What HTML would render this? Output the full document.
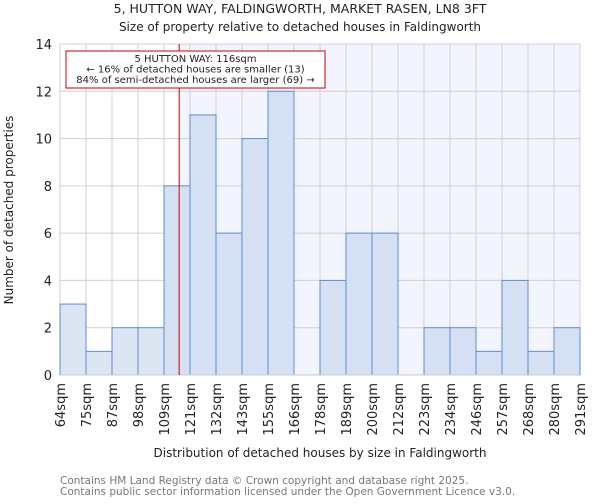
<!DOCTYPE html>
<html><head><meta charset="utf-8"><style>
body{margin:0;background:#fff;font-family:"DejaVu Sans","Liberation Sans",sans-serif;}
</style></head><body>
<svg width="600" height="500" xmlns="http://www.w3.org/2000/svg" font-family="DejaVu Sans, Liberation Sans, sans-serif">
<text x="300" y="13" text-anchor="middle" font-size="12.5" fill="#222">5, HUTTON WAY, FALDINGWORTH, MARKET RASEN, LN8 3FT</text>
<text x="300" y="31" text-anchor="middle" font-size="12" fill="#222">Size of property relative to detached houses in Faldingworth</text>
<g id="plot"></g>
<text transform="translate(13,210) rotate(-90)" text-anchor="middle" font-size="12" fill="#222">Number of detached properties</text>
<text x="320" y="457" text-anchor="middle" font-size="12" fill="#222">Distribution of detached houses by size in Faldingworth</text>
<text x="60" y="484" font-size="10.5" fill="#777">Contains HM Land Registry data © Crown copyright and database right 2025.</text>
<text x="60" y="495" font-size="10.5" fill="#777">Contains public sector information licensed under the Open Government Licence v3.0.</text>
</svg>
<script>
const categories=["64sqm","75sqm","87sqm","98sqm","109sqm","121sqm","132sqm","143sqm","155sqm","166sqm","178sqm","189sqm","200sqm","212sqm","223sqm","234sqm","246sqm","257sqm","268sqm","280sqm","291sqm"];
const counts=[3,1,2,2,8,11,6,10,12,0,4,6,6,0,2,2,1,4,1,2];
const yTicks=[0,2,4,6,8,10,12,14];
const edgeValues=[64,75,87,98,109,121,132,143,155,166,178,189,200,212,223,234,246,257,268,280,291];
const propertySize=116;
const L=60,R=580,T=44,B=375,yMax=14;
const NS="http://www.w3.org/2000/svg";
const g=document.getElementById('plot');
const nb=counts.length,bw=(R-L)/nb;
function xs(i){return L+i*bw;}
function ys(v){return B-(B-T)*v/yMax;}
function xv(v){for(let i=0;i<edgeValues.length-1;i++){if(v<=edgeValues[i+1])return xs(i)+bw*(v-edgeValues[i])/(edgeValues[i+1]-edgeValues[i]);}return R;}
function mk(t,a){const e=document.createElementNS(NS,t);for(const k in a)e.setAttribute(k,a[k]);g.appendChild(e);return e;}
const px=xv(propertySize);
let e=mk('rect',{x:px,y:T,width:R-px,height:B-T,fill:'#f2f5fd'});


for(const t of yTicks){e=mk('line',{x1:L,x2:R,y1:ys(t),y2:ys(t),stroke:'#d0d0d0','stroke-width':1});


e=mk('text',{x:L-8,y:ys(t)+5,'text-anchor':'end','font-size':13,fill:'#222'});e.textContent=t;

}
for(let i=0;i<=nb;i++){e=mk('line',{x1:xs(i),x2:xs(i),y1:T,y2:B,stroke:'#d0d0d0','stroke-width':1});

}
counts.forEach((c,i)=>{if(c<=0)return;const left=xs(i)+bw<=px+1;
e=mk('rect',{x:xs(i),y:ys(c),width:bw,height:B-ys(c),fill:left?'#dce6f2':'#d6e0f3',stroke:'#5b8fd6','stroke-width':1});

});
e=mk('line',{x1:L,x2:R,y1:B,y2:B,stroke:'#ccc'});


categories.forEach((c,i)=>{const x=xs(i);
e=mk('text',{transform:`translate(${x+5},${B+8}) rotate(-90)`,'text-anchor':'end','font-size':13,fill:'#222'});e.textContent=c;

});
e=mk('line',{x1:px,x2:px,y1:T,y2:B,stroke:'#cc0000','stroke-width':1});


e=mk('rect',{x:66,y:51,width:259,height:37,fill:'#fff',stroke:'#cc0000','stroke-width':1});


const lines=["5 HUTTON WAY: 116sqm","← 16% of detached houses are smaller (13)","84% of semi-detached houses are larger (69) →"];
lines.forEach((s,k)=>{e=mk('text',{x:195.5,y:62+k*10.5,'text-anchor':'middle','font-size':10,fill:'#222'});e.textContent=s;

});
</script>
</body></html>
